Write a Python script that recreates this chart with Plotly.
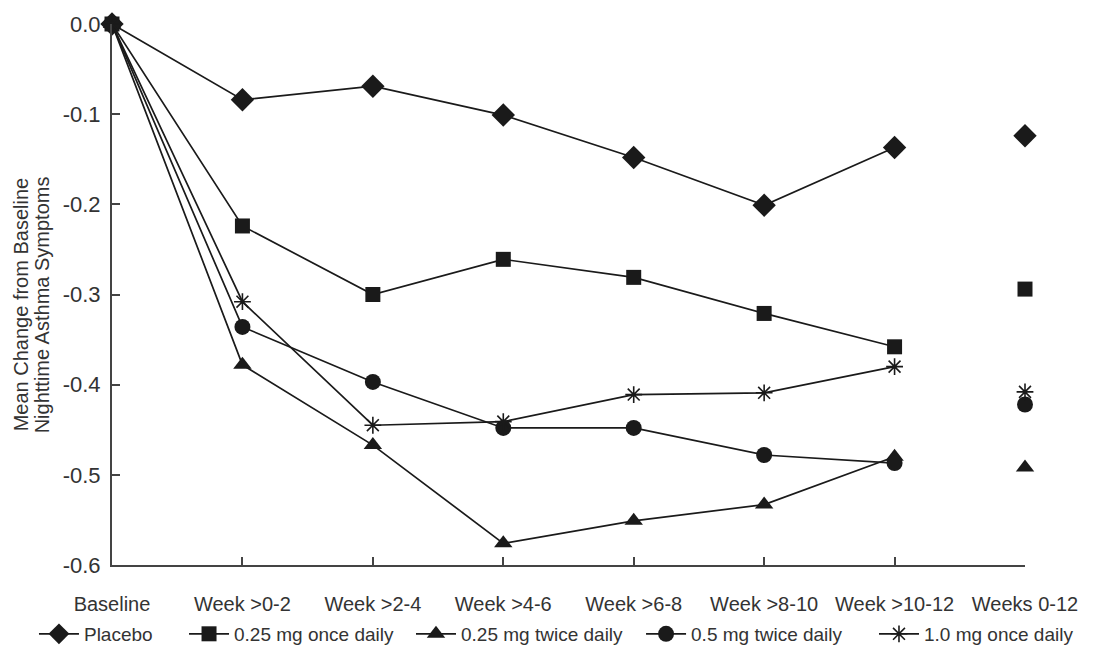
import plotly.graph_objects as go

categories = ["Baseline", "Week >0-2", "Week >2-4", "Week >4-6", "Week >6-8",
              "Week >8-10", "Week >10-12", "Weeks 0-12"]

placebo = [0.0, -0.084, -0.069, -0.101, -0.148, -0.201, -0.137, -0.124]
once_025 = [0.0, -0.224, -0.300, -0.261, -0.281, -0.321, -0.358, -0.294]
twice_025 = [0.0, -0.378, -0.467, -0.576, -0.551, -0.533, -0.480, -0.492]
twice_05 = [0.0, -0.336, -0.397, -0.448, -0.448, -0.478, -0.487, -0.422]
once_10 = [0.0, -0.308, -0.445, -0.441, -0.411, -0.409, -0.380, -0.408]

y_ticks = [0.0, -0.1, -0.2, -0.3, -0.4, -0.5, -0.6]
y_tick_labels = ["0.0", "-0.1", "-0.2", "-0.3", "-0.4", "-0.5", "-0.6"]

series = [
    ("Placebo", placebo, "diamond", 18),
    ("0.25 mg once daily", once_025, "square", 15),
    ("0.25 mg twice daily", twice_025, "triangle-up", 16),
    ("0.5 mg twice daily", twice_05, "circle", 16),
    ("1.0 mg once daily", once_10, "asterisk-open", 14),
]
legend_x = [0.0235, 0.1593, 0.3647, 0.5729, 0.7837]

ink = "#1a1a1a"
xs = list(range(len(categories)))
W, H = 1105, 642
L, R, T, B = 104, 88, 16, 85
plot_w = W - L - R

fig = go.Figure()
for i, (name, vals, sym, size) in enumerate(series):
    lg = "legend" if i == 0 else f"legend{i+1}"
    mline = dict(color=ink, width=1.6) if "open" in sym else dict(width=0)
    fig.add_trace(go.Scatter(
        x=xs[:7], y=vals[:7], mode="lines+markers", name=name,
        legendgroup=name, legend=lg, cliponaxis=False,
        line=dict(color=ink, width=1.7),
        marker=dict(symbol=sym, size=size, color=ink, line=mline),
    ))
    fig.add_trace(go.Scatter(
        x=xs[7:], y=vals[7:], mode="markers", name=name,
        legendgroup=name, legend=lg, showlegend=False, cliponaxis=False,
        marker=dict(symbol=sym, size=size, color=ink, line=mline),
    ))

axis_col = "#444444"
txt_col = "#333333"
legends = {}
for i, lx in enumerate(legend_x):
    key = "legend" if i == 0 else f"legend{i+1}"
    legends[key] = dict(
        orientation="h", x=lx, xanchor="left", y=0.025, yanchor="middle",
        xref="container", yref="container",
        font=dict(size=19, color=txt_col),
        bgcolor="rgba(0,0,0,0)", itemwidth=40,
    )

fig.update_layout(
    width=W, height=H,
    paper_bgcolor="white", plot_bgcolor="white",
    margin=dict(l=L, r=R, t=T, b=B, autoexpand=False),
    font=dict(family="Liberation Sans, Arial, sans-serif", color=txt_col),
    xaxis=dict(
        range=[0, 7], tickmode="array", tickvals=xs, ticktext=categories,
        showline=True, linecolor=axis_col, linewidth=2,
        ticks="inside", ticklen=8, tickwidth=2, tickcolor=axis_col,
        showgrid=False, zeroline=False,
        tickfont=dict(size=20, color=txt_col), ticklabelstandoff=20,
    ),
    yaxis=dict(
        range=[-0.6, 0.0], tickmode="array",
        tickvals=y_ticks, ticktext=y_tick_labels,
        showline=True, linecolor=axis_col, linewidth=2,
        ticks="inside", ticklen=8, tickwidth=2, tickcolor=axis_col,
        showgrid=False, zeroline=False,
        tickfont=dict(size=22, color=txt_col), ticklabelstandoff=5,
    ),
    annotations=[
        dict(text="Mean Change from Baseline", textangle=-90,
             xref="paper", yref="paper", x=(13 - L) / plot_w, y=0.48,
             xanchor="center", yanchor="middle", showarrow=False,
             font=dict(size=20, color=txt_col)),
        dict(text="Nighttime Asthma Symptoms", textangle=-90,
             xref="paper", yref="paper", x=(34 - L) / plot_w, y=0.48,
             xanchor="center", yanchor="middle", showarrow=False,
             font=dict(size=20, color=txt_col)),
    ],
    **legends,
)

fig.write_html("out.html")
